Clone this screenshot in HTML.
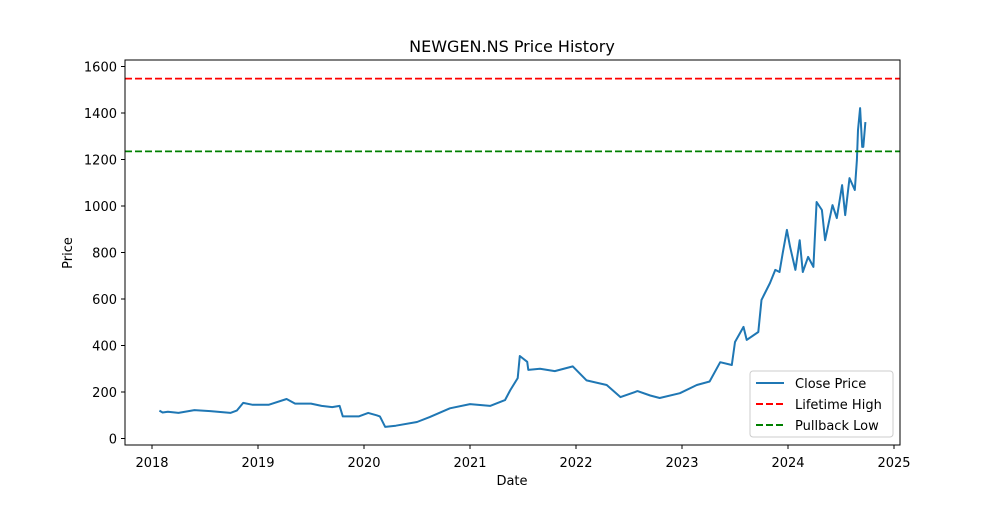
<!DOCTYPE html>
<html><head><meta charset="utf-8"><style>
body{margin:0;background:#fff;font-family:"Liberation Sans","DejaVu Sans",sans-serif}
svg text{font-family:"DejaVu Sans","Liberation Sans",sans-serif;font-size:13px;fill:#000}
</style></head><body>
<svg id="chart" width="1000" height="500" xmlns="http://www.w3.org/2000/svg">
<rect width="1000" height="500" fill="#fff"/>
<text x="512" y="52" text-anchor="middle" style="font-size:16px">NEWGEN.NS Price History</text>
<g id="axes"></g>
<g id="plot"></g>
<rect x="125" y="60" width="775" height="385" fill="none" stroke="#000" stroke-width="1"/>
<text x="512" y="485" text-anchor="middle">Date</text>
<text transform="translate(72,253) rotate(-90)" text-anchor="middle">Price</text>
<g>
<rect x="750" y="371" width="143" height="66" rx="3" fill="#fff" fill-opacity="0.8" stroke="#ccc"/>
<line x1="756" y1="383" x2="784" y2="383" stroke="#1f77b4" stroke-width="2"/>
<text x="795" y="388">Close Price</text>
<line x1="756" y1="404" x2="784" y2="404" stroke="#ff0000" stroke-width="2" stroke-dasharray="7,3"/>
<text x="795" y="409">Lifetime High</text>
<line x1="756" y1="425" x2="784" y2="425" stroke="#008000" stroke-width="2" stroke-dasharray="7,3"/>
<text x="795" y="430">Pullback Low</text>
</g>
</svg>
<script>
const dates=[2018.07,2018.1,2018.15,2018.25,2018.4,2018.55,2018.74,2018.8,2018.86,2018.95,2019.1,2019.27,2019.35,2019.5,2019.6,2019.7,2019.77,2019.8,2019.95,2020.04,2020.12,2020.15,2020.2,2020.3,2020.5,2020.62,2020.81,2021.0,2021.19,2021.33,2021.38,2021.45,2021.47,2021.54,2021.55,2021.66,2021.8,2021.97,2022.1,2022.29,2022.42,2022.58,2022.7,2022.79,2022.98,2023.14,2023.26,2023.36,2023.47,2023.5,2023.58,2023.61,2023.72,2023.75,2023.83,2023.88,2023.92,2023.95,2023.99,2024.02,2024.07,2024.11,2024.14,2024.19,2024.24,2024.27,2024.32,2024.35,2024.42,2024.46,2024.51,2024.54,2024.58,2024.63,2024.65,2024.66,2024.68,2024.7,2024.71,2024.73];
const prices=[120,112,115,110,122,118,110,120,153,145,145,170,150,150,140,135,140,95,95,110,100,95,50,55,71,92,130,148,140,165,208,260,355,330,295,300,290,310,250,230,178,204,185,174,195,230,245,328,316,415,480,424,458,596,669,725,716,797,897,824,725,853,716,781,738,1017,983,853,1004,948,1090,961,1120,1069,1198,1327,1421,1254,1254,1361];
const yTicks=[0,200,400,600,800,1000,1200,1400,1600];
const xTicks=[2018,2019,2020,2021,2022,2023,2024,2025];
const lifetimeHigh=1548, pullbackLow=1235;
const X=v=>152+(v-2018)*106, Y=v=>438.5-v*0.2325;
const NS="http://www.w3.org/2000/svg";
function mk(t,a,p){const e=document.createElementNS(NS,t);for(const k in a)e.setAttribute(k,a[k]);p.appendChild(e);return e;}
const ax=document.getElementById('axes'), pl=document.getElementById('plot');
yTicks.forEach(v=>{
  const l=mk('line',{x1:121,x2:125,y1:Y(v),y2:Y(v),stroke:'#000'},ax);
  
  
  const t=mk('text',{x:117,y:Y(v)+5,'text-anchor':'end'},ax);t.textContent=v;
  
  
});
xTicks.forEach(v=>{
  const l=mk('line',{x1:X(v),x2:X(v),y1:445,y2:449,stroke:'#000'},ax);
  
  
  const t=mk('text',{x:X(v),y:467,'text-anchor':'middle'},ax);t.textContent=v;
  
  
});
const d=dates.map((v,i)=>(i?'L':'M')+X(v).toFixed(1)+','+Y(prices[i]).toFixed(1)).join('');
const p=mk('path',{d:d,fill:'none',stroke:'#1f77b4','stroke-width':2,'stroke-linejoin':'round'},pl);


const h=mk('line',{x1:125,x2:900,y1:Y(lifetimeHigh),y2:Y(lifetimeHigh),stroke:'#ff0000','stroke-width':1.8,'stroke-dasharray':'7,3'},pl);


const lo=mk('line',{x1:125,x2:900,y1:Y(pullbackLow),y2:Y(pullbackLow),stroke:'#008000','stroke-width':1.8,'stroke-dasharray':'7,3'},pl);


</script>
</body></html>
